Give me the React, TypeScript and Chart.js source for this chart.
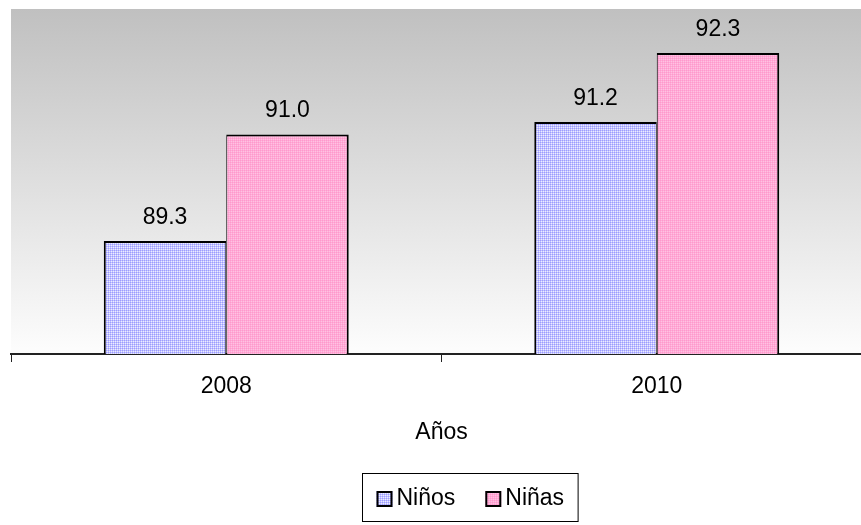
import React, { useEffect, useRef } from 'react';
import { Chart, registerables } from 'chart.js';

Chart.register(...registerables);

const categories = ['2008', '2010'];
const ninos = [89.3, 91.2];
const ninas = [91.0, 92.3];
const seriesNames = ['Niños', 'Niñas'];
const axisTitle = 'Años';
const yMin = 87.5;
const yMax = 93;

const FONT = "'Liberation Sans', Arial, sans-serif";
const FS = 23;

function makePattern(a: string, b: string, c: string) {
  const cv = document.createElement('canvas');
  cv.width = 2;
  cv.height = 2;
  const x = cv.getContext('2d')!;
  x.fillStyle = a;
  x.fillRect(0, 0, 1, 1);
  x.fillStyle = b;
  x.fillRect(1, 0, 1, 1);
  x.fillRect(0, 1, 1, 1);
  x.fillStyle = c;
  x.fillRect(1, 1, 1, 1);
  const p = x.createPattern(cv, 'repeat');
  return p!;
}

export default function App() {
  const ref = useRef<HTMLCanvasElement>(null);

  useEffect(() => {
    if (!ref.current) return;
    const blue = makePattern('#9c9cff', '#c2c2ff', '#ececff');
    const pink = makePattern('#ff99cc', '#ffaad6', '#ffc2e2');
    const fills = [blue, pink];

    const bgPlugin = {
      id: 'bgGrad',
      beforeDraw(chart: any) {
        const { ctx, chartArea: a } = chart;
        const g = ctx.createLinearGradient(0, a.top, 0, a.bottom);
        g.addColorStop(0, '#c0c0c0');
        g.addColorStop(1, '#fdfdfd');
        ctx.save();
        ctx.fillStyle = g;
        ctx.fillRect(a.left, a.top, a.right - a.left, a.bottom - a.top);
        ctx.restore();
      },
    };

    const labelPlugin = {
      id: 'valLabels',
      afterDatasetsDraw(chart: any) {
        const { ctx } = chart;
        ctx.save();
        ctx.font = `${FS}px ${FONT}`;
        ctx.fillStyle = '#000';
        ctx.textAlign = 'center';
        ctx.textBaseline = 'alphabetic';
        chart.data.datasets.forEach((ds: any, i: number) => {
          chart.getDatasetMeta(i).data.forEach((el: any, j: number) => {
            ctx.fillText(Number(ds.data[j]).toFixed(1), el.x, el.y - 17);
          });
        });
        ctx.restore();
      },
    };

    const legendPlugin = {
      id: 'boxLegend',
      afterDraw(chart: any) {
        const { ctx } = chart;
        ctx.save();
        ctx.font = `${FS}px ${FONT}`;
        const sq = 16;
        const gap = 4;
        const itemGap = 30;
        const padX = 14;
        const widths = chart.data.datasets.map((d: any) => ctx.measureText(d.label).width);
        let total = padX * 2;
        widths.forEach((w: number, i: number) => {
          total += sq + gap + w + (i > 0 ? itemGap : 0);
        });
        const cx = 469.5;
        const left = Math.round(cx - total / 2) + 0.5;
        const top = 473.5;
        const h = 48;
        ctx.strokeStyle = '#000';
        ctx.lineWidth = 1;
        ctx.strokeRect(left, top, total, h);
        let x = left + padX;
        const cy = 499;
        chart.data.datasets.forEach((d: any, i: number) => {
          if (i > 0) x += itemGap;
          ctx.fillStyle = fills[i];
          ctx.fillRect(x, cy - sq / 2, sq, sq);
          ctx.strokeStyle = '#000';
          ctx.lineWidth = 2;
          ctx.strokeRect(x + 1, cy - sq / 2 + 1, sq - 2, sq - 2);
          x += sq + gap;
          ctx.fillStyle = '#000';
          ctx.textAlign = 'left';
          ctx.textBaseline = 'middle';
          ctx.fillText(d.label, x, cy);
          x += widths[i];
        });
        ctx.restore();
      },
    };

    const chart = new Chart(ref.current, {
      type: 'bar',
      data: {
        labels: categories,
        datasets: [
          {
            label: seriesNames[0],
            data: ninos,
            backgroundColor: blue as any,
            borderColor: '#000',
            borderWidth: { top: 2, left: 2, right: 1, bottom: 0 } as any,
            borderSkipped: false,
            categoryPercentage: 0.569,
            barPercentage: 1,
          },
          {
            label: seriesNames[1],
            data: ninas,
            backgroundColor: pink as any,
            borderColor: '#000',
            borderWidth: { top: 2, left: 1, right: 2, bottom: 0 } as any,
            borderSkipped: false,
            categoryPercentage: 0.569,
            barPercentage: 1,
          },
        ],
      },
      options: {
        responsive: false,
        animation: false,
        devicePixelRatio: 1,
        layout: { padding: { left: 11, top: 9, right: 3, bottom: 60 } },
        plugins: {
          legend: { display: false },
          tooltip: { enabled: false },
        },
        scales: {
          y: { display: false, min: yMin, max: yMax },
          x: {
            offset: true,
            grid: {
              display: true,
              drawOnChartArea: false,
              drawTicks: true,
              tickLength: 8,
              color: '#222',
              offset: true,
            },
            border: { display: true, color: '#222', width: 2 },
            ticks: { font: { family: FONT, size: FS }, color: '#000', padding: 11 },
            title: {
              display: true,
              text: axisTitle,
              font: { family: FONT, size: FS },
              color: '#000',
              padding: { top: 0, bottom: 19 },
            },
            afterFit: (s: any) => {
              s.height = 111;
            },
          },
        },
      },
      plugins: [bgPlugin, labelPlugin, legendPlugin],
    });
    return () => chart.destroy();
  }, []);

  return (
    <div
      style={{
        position: 'fixed',
        left: 0,
        top: 0,
        width: 861,
        height: 525,
        overflow: 'hidden',
        background: '#fff',
      }}
    >
      <canvas ref={ref} width={875} height={525} style={{ width: 875, height: 525, display: 'block' }} />
    </div>
  );
}
